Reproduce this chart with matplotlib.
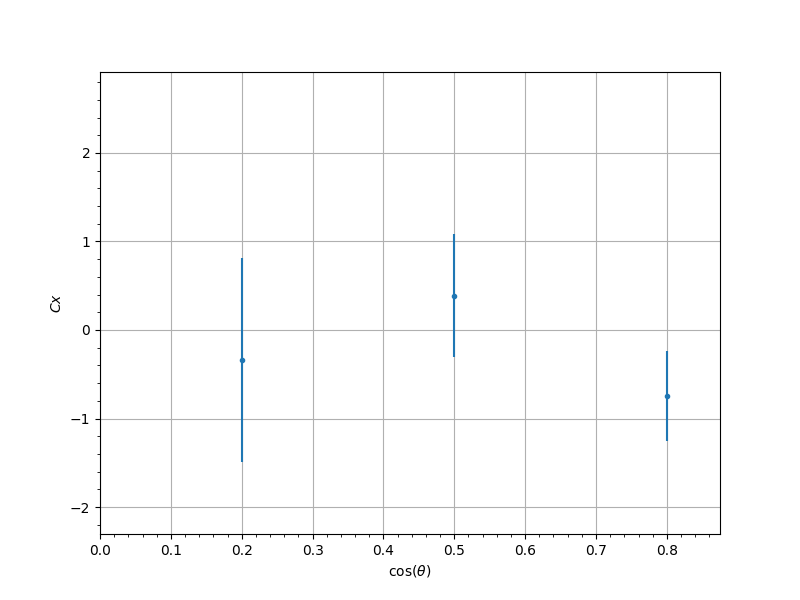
import matplotlib
matplotlib.use("Agg")
import matplotlib.pyplot as plt

cos_theta = [0.2, 0.5, 0.8]
cx = [-0.34, 0.385, -0.745]
cx_err = [1.15, 0.695, 0.505]

fig = plt.figure(figsize=(8, 6), dpi=100)
ax = fig.add_subplot(1, 1, 1)
ax.errorbar(cos_theta, cx, yerr=cx_err, fmt='.')
ax.set_xlim(0, 0.875)
ax.set_ylim(-2.305, 2.915)
ax.set_xlabel(r"cos($\theta$)")
ax.set_ylabel(r"$Cx$")
ax.minorticks_on()
ax.grid(True)
fig.savefig("out.png")
